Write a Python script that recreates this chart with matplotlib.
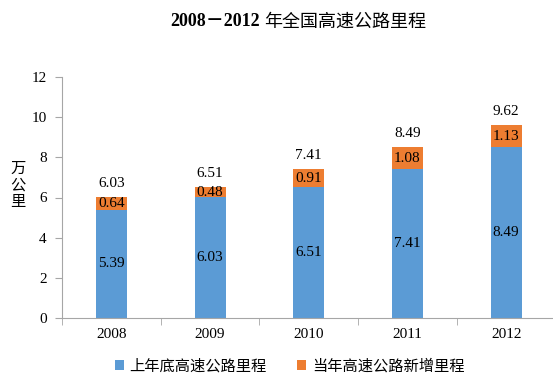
import matplotlib
matplotlib.use("Agg")
import matplotlib.pyplot as plt
from matplotlib.patches import Patch

years = ["2008", "2009", "2010", "2011", "2012"]
base = [5.39, 6.03, 6.51, 7.41, 8.49]
added = [0.64, 0.48, 0.91, 1.08, 1.13]
totals = [6.03, 6.51, 7.41, 8.49, 9.62]

blue = "#5B9BD5"
orange = "#ED7D31"
axis_gray = "#A6A6A6"
serif = ["Liberation Serif", "DejaVu Serif"]
cjk = ["Noto Sans CJK SC", "DejaVu Sans"]

fig = plt.figure(figsize=(5.53, 3.83), dpi=100)
ax = fig.add_axes([62/553, 65/383, 493.5/553, 241/383])

x = list(range(len(years)))
w = 0.315
ax.bar(x, base, width=w, color=blue, zorder=2)
ax.bar(x, added, width=w, bottom=base, color=orange, zorder=2)

for i in x:
    ax.text(i, base[i] / 2, f"{base[i]:.2f}", ha="center", va="center",
            fontsize=11, family=serif, color="black")
    ax.text(i, base[i] + added[i] / 2, f"{added[i]:.2f}", ha="center", va="center",
            fontsize=11, family=serif, color="black")
    ax.text(i, totals[i] + 0.35, f"{totals[i]:.2f}", ha="center", va="bottom",
            fontsize=11, family=serif, color="black")

ax.set_xlim(-0.5, len(years) - 0.5)
ax.set_ylim(0, 12)
ax.set_yticks(range(0, 13, 2))
ax.set_yticklabels([str(v) for v in range(0, 13, 2)], family=serif, fontsize=11)
ax.set_xticks(x)
ax.set_xticklabels(years, family=serif, fontsize=11)
ax.set_xticks([i - 0.5 for i in range(len(years) + 1)], minor=True)
ax.tick_params(axis="x", which="major", length=0, pad=7)
ax.tick_params(axis="x", which="minor", length=5, color=axis_gray)
ax.tick_params(axis="y", length=5, color=axis_gray, pad=6)

for s in ["top", "right"]:
    ax.spines[s].set_visible(False)
for s in ["left", "bottom"]:
    ax.spines[s].set_color(axis_gray)
    ax.spines[s].set_linewidth(0.8)

fig.text(18/553, 1 - 185/383, "万\n公\n里", ha="center", va="center",
         fontsize=11, family=cjk, linespacing=0.95)

fig.text(260/553, 1 - 22/383, "2008－2012", ha="right", va="center",
         fontsize=13, family=["Liberation Serif", "Noto Sans CJK SC"], fontweight="bold")
fig.text(264/553, 1 - 22/383, "年全国高速公路里程", ha="left", va="center",
         fontsize=13, family=cjk)

handles = [Patch(facecolor=blue, label="上年底高速公路里程"),
           Patch(facecolor=orange, label="当年高速公路新增里程")]
fig.legend(handles=handles, loc="center", bbox_to_anchor=(0.524, 1 - 366/383), ncol=2,
           frameon=False, prop={"family": cjk, "size": 11},
           handlelength=0.55, handleheight=0.55, handletextpad=0.4, columnspacing=2.0)

fig.savefig("out.png", dpi=100)
